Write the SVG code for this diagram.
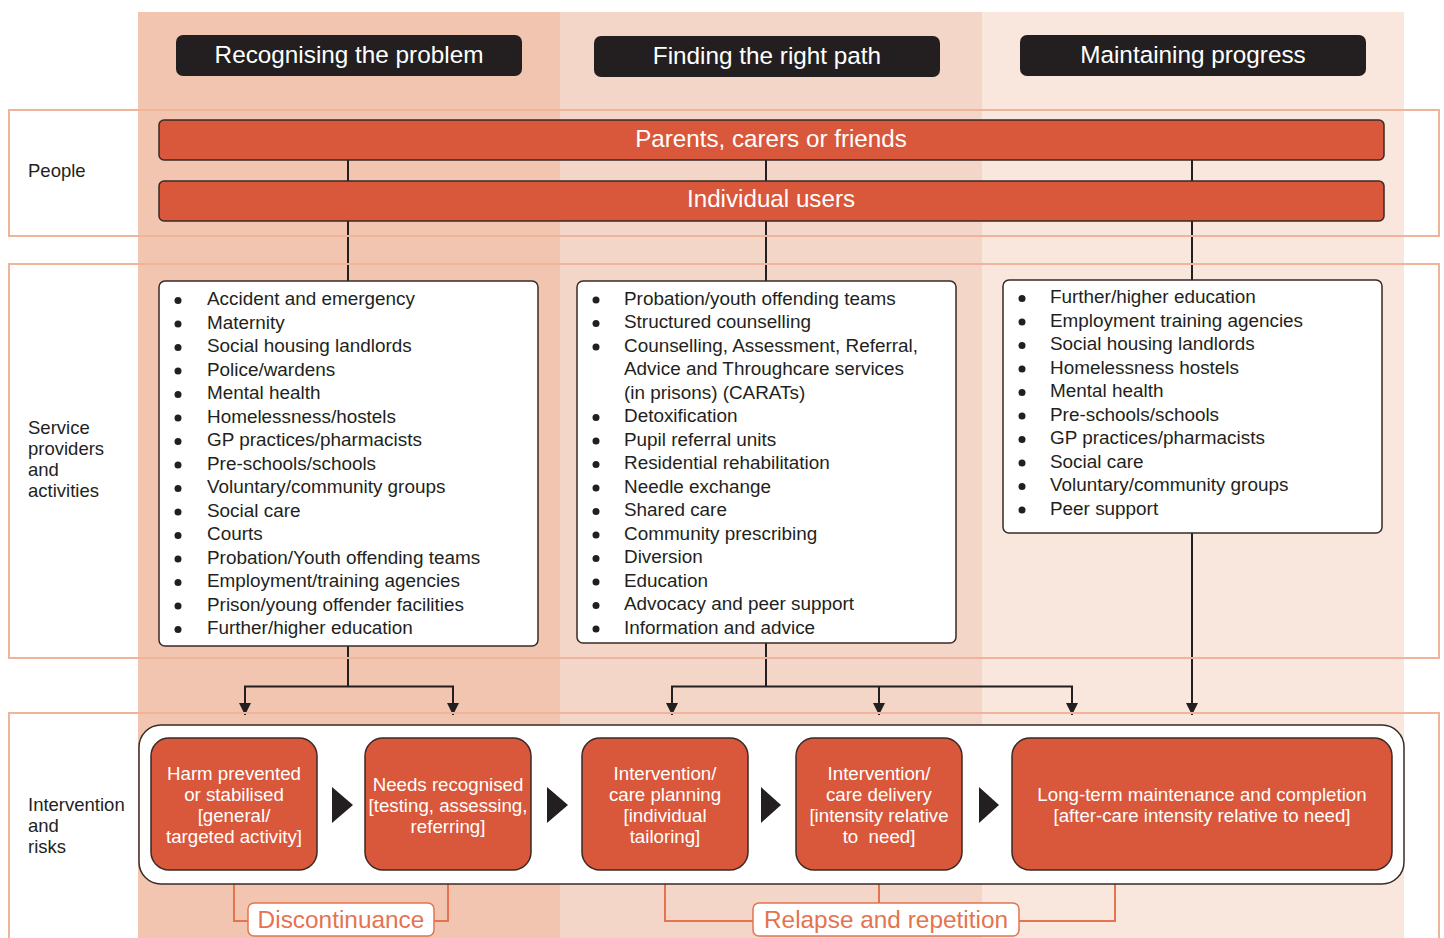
<svg xmlns="http://www.w3.org/2000/svg" width="1444" height="938" viewBox="0 0 1444 938">
<defs>
<style>
text{font-family:"Liberation Sans",Arial,sans-serif;}
.hdr{fill:#231f20;}
.hdrt{fill:#fff;font-size:24.3px;text-anchor:middle;}
.bar{fill:#d9573a;stroke:#3a2a25;stroke-width:1.5;}
.bart{fill:#fff;font-size:24.2px;text-anchor:middle;}
.frame{fill:none;stroke:#efb49a;stroke-width:2;}
.lbl{fill:#231f20;font-size:18.5px;}
.list{fill:#fff;stroke:#3a2a25;stroke-width:1.5;}
.lt{fill:#231f20;font-size:18.9px;}
.bul{fill:#231f20;}
.con{fill:none;stroke:#231f20;stroke-width:2;}
.box{fill:#d9573a;stroke:#3a2a25;stroke-width:1.5;}
.bt{fill:#fff;font-size:18.7px;text-anchor:middle;}
.chev{fill:#231f20;}
.risk{fill:none;stroke:#e5734f;stroke-width:2;}
.rlab{fill:#fff;stroke:#e5734f;stroke-width:1.5;}
.rt{fill:#e5734f;font-size:24.4px;text-anchor:middle;}
</style>
<marker id="ah" markerUnits="userSpaceOnUse" markerWidth="12" markerHeight="13" refX="12" refY="6" orient="auto" viewBox="0 0 12 12">
<path d="M0,0 L12,6 L0,12 z" fill="#231f20"/>
</marker>
</defs>
<rect width="1444" height="938" fill="#fff"/>
<g id="columns">
<rect x="138" y="12" width="422" height="926" fill="#f1c5b0"/>
<rect x="560" y="12" width="422" height="926" fill="#f3d6c8"/>
<rect x="982" y="12" width="422" height="926" fill="#f9e6dd"/>
</g>
<g id="headers">
<g id="h1"><rect class="hdr" x="176" y="35" width="346" height="41" rx="7"/><text class="hdrt" x="349" y="62.5">Recognising the problem</text></g>
<g id="h2"><rect class="hdr" x="594" y="36" width="346" height="41" rx="7"/><text class="hdrt" x="767" y="63.5">Finding the right path</text></g>
<g id="h3"><rect class="hdr" x="1020" y="35" width="346" height="41" rx="7"/><text class="hdrt" x="1193" y="62.5">Maintaining progress</text></g>
</g>
<g id="connectors">
<line class="con" x1="348" y1="160" x2="348" y2="181"/>
<line class="con" x1="766" y1="160" x2="766" y2="181"/>
<line class="con" x1="1192" y1="160" x2="1192" y2="181"/>
<line class="con" x1="348" y1="221" x2="348" y2="281"/>
<line class="con" x1="766" y1="221" x2="766" y2="281"/>
<line class="con" x1="1192" y1="221" x2="1192" y2="280"/>
<path class="con" d="M348,646 V686.5 M245,700 V686.5 H453 V700" />
<line class="con" x1="245" y1="690" x2="245" y2="715" marker-end="url(#ah)"/>
<line class="con" x1="453" y1="690" x2="453" y2="715" marker-end="url(#ah)"/>
<path class="con" d="M766,643 V686.5 M672,700 V686.5 H1072 V700 M879,686.5 V700"/>
<line class="con" x1="672" y1="690" x2="672" y2="715" marker-end="url(#ah)"/>
<line class="con" x1="879" y1="690" x2="879" y2="715" marker-end="url(#ah)"/>
<line class="con" x1="1072" y1="690" x2="1072" y2="715" marker-end="url(#ah)"/>
<line class="con" x1="1192" y1="533" x2="1192" y2="715" marker-end="url(#ah)"/>
<path class="risk" d="M234,870 V921 H248 M448,870 V921 H434"/>
<path class="risk" d="M665,870 V921 H753 M879,870 V903 M1115,870 V921 H1019"/>
</g>
<g id="frames">
<rect class="frame" x="9" y="110" width="1430" height="126"/>
<rect class="frame" x="9" y="264" width="1430" height="394"/>
<rect class="frame" x="9" y="713" width="1430" height="240"/>
</g>
<g id="row-labels">
<text class="lbl" x="28" y="177">People</text>
<text class="lbl" x="28" y="434"><tspan x="28">Service</tspan><tspan x="28" dy="21">providers</tspan><tspan x="28" dy="21">and</tspan><tspan x="28" dy="21">activities</tspan></text>
<text class="lbl" x="28" y="811"><tspan x="28">Intervention</tspan><tspan x="28" dy="21">and</tspan><tspan x="28" dy="21">risks</tspan></text>
</g>
<g id="parents"><rect class="bar" x="159" y="120" width="1225" height="40" rx="5"/><text class="bart" x="771" y="147">Parents, carers or friends</text></g>
<g id="individuals"><rect class="bar" x="159" y="181" width="1225" height="40" rx="5"/><text class="bart" x="771" y="207">Individual users</text></g>
<g id="list1">
<rect class="list" x="159" y="281" width="379" height="365" rx="6"/>
<g class="bul">
<circle cx="178" cy="300.5" r="3.5"/><circle cx="178" cy="324" r="3.5"/><circle cx="178" cy="347.5" r="3.5"/><circle cx="178" cy="371" r="3.5"/><circle cx="178" cy="394.5" r="3.5"/><circle cx="178" cy="418" r="3.5"/><circle cx="178" cy="441.5" r="3.5"/><circle cx="178" cy="465" r="3.5"/><circle cx="178" cy="488.5" r="3.5"/><circle cx="178" cy="512" r="3.5"/><circle cx="178" cy="535.5" r="3.5"/><circle cx="178" cy="559" r="3.5"/><circle cx="178" cy="582.5" r="3.5"/><circle cx="178" cy="606" r="3.5"/><circle cx="178" cy="629.5" r="3.5"/>
</g>
<text class="lt" y="305"><tspan x="207">Accident and emergency</tspan><tspan x="207" dy="23.5">Maternity</tspan><tspan x="207" dy="23.5">Social housing landlords</tspan><tspan x="207" dy="23.5">Police/wardens</tspan><tspan x="207" dy="23.5">Mental health</tspan><tspan x="207" dy="23.5">Homelessness/hostels</tspan><tspan x="207" dy="23.5">GP practices/pharmacists</tspan><tspan x="207" dy="23.5">Pre-schools/schools</tspan><tspan x="207" dy="23.5">Voluntary/community groups</tspan><tspan x="207" dy="23.5">Social care</tspan><tspan x="207" dy="23.5">Courts</tspan><tspan x="207" dy="23.5">Probation/Youth offending teams</tspan><tspan x="207" dy="23.5">Employment/training agencies</tspan><tspan x="207" dy="23.5">Prison/young offender facilities</tspan><tspan x="207" dy="23.5">Further/higher education</tspan></text>
</g>
<g id="list2">
<rect class="list" x="577" y="281" width="379" height="362" rx="6"/>
<g class="bul">
<circle cx="596" cy="300" r="3.5"/><circle cx="596" cy="323.5" r="3.5"/><circle cx="596" cy="347" r="3.5"/><circle cx="596" cy="417.5" r="3.5"/><circle cx="596" cy="441" r="3.5"/><circle cx="596" cy="464.5" r="3.5"/><circle cx="596" cy="488" r="3.5"/><circle cx="596" cy="511.5" r="3.5"/><circle cx="596" cy="535" r="3.5"/><circle cx="596" cy="558.5" r="3.5"/><circle cx="596" cy="582" r="3.5"/><circle cx="596" cy="605.5" r="3.5"/><circle cx="596" cy="629" r="3.5"/>
</g>
<text class="lt" y="304.5"><tspan x="624">Probation/youth offending teams</tspan><tspan x="624" dy="23.5">Structured counselling</tspan><tspan x="624" dy="23.5">Counselling, Assessment, Referral,</tspan><tspan x="624" dy="23.5">Advice and Throughcare services</tspan><tspan x="624" dy="23.5">(in prisons) (CARATs)</tspan><tspan x="624" dy="23.5">Detoxification</tspan><tspan x="624" dy="23.5">Pupil referral units</tspan><tspan x="624" dy="23.5">Residential rehabilitation</tspan><tspan x="624" dy="23.5">Needle exchange</tspan><tspan x="624" dy="23.5">Shared care</tspan><tspan x="624" dy="23.5">Community prescribing</tspan><tspan x="624" dy="23.5">Diversion</tspan><tspan x="624" dy="23.5">Education</tspan><tspan x="624" dy="23.5">Advocacy and peer support</tspan><tspan x="624" dy="23.5">Information and advice</tspan></text>
</g>
<g id="list3">
<rect class="list" x="1003" y="280" width="379" height="253" rx="6"/>
<g class="bul">
<circle cx="1022" cy="298.5" r="3.5"/><circle cx="1022" cy="322" r="3.5"/><circle cx="1022" cy="345.5" r="3.5"/><circle cx="1022" cy="369" r="3.5"/><circle cx="1022" cy="392.5" r="3.5"/><circle cx="1022" cy="416" r="3.5"/><circle cx="1022" cy="439.5" r="3.5"/><circle cx="1022" cy="463" r="3.5"/><circle cx="1022" cy="486.5" r="3.5"/><circle cx="1022" cy="510" r="3.5"/>
</g>
<text class="lt" y="303"><tspan x="1050">Further/higher education</tspan><tspan x="1050" dy="23.5">Employment training agencies</tspan><tspan x="1050" dy="23.5">Social housing landlords</tspan><tspan x="1050" dy="23.5">Homelessness hostels</tspan><tspan x="1050" dy="23.5">Mental health</tspan><tspan x="1050" dy="23.5">Pre-schools/schools</tspan><tspan x="1050" dy="23.5">GP practices/pharmacists</tspan><tspan x="1050" dy="23.5">Social care</tspan><tspan x="1050" dy="23.5">Voluntary/community groups</tspan><tspan x="1050" dy="23.5">Peer support</tspan></text>
</g>
<g id="intervention-container"><rect x="139" y="725" width="1265" height="159" rx="22" fill="#fff" stroke="#3a2a25" stroke-width="1.5"/></g>
<g id="stage1"><rect class="box" x="151" y="738" width="166" height="132" rx="18"/><text class="bt" y="779.5"><tspan x="234">Harm prevented</tspan><tspan x="234" dy="21">or stabilised</tspan><tspan x="234" dy="21">[general/</tspan><tspan x="234" dy="21">targeted activity]</tspan></text></g>
<g id="stage2"><rect class="box" x="365" y="738" width="166" height="132" rx="18"/><text class="bt" y="790.5"><tspan x="448">Needs recognised</tspan><tspan x="448" dy="21">[testing, assessing,</tspan><tspan x="448" dy="21">referring]</tspan></text></g>
<g id="stage3"><rect class="box" x="582" y="738" width="166" height="132" rx="18"/><text class="bt" y="779.5"><tspan x="665">Intervention/</tspan><tspan x="665" dy="21">care planning</tspan><tspan x="665" dy="21">[individual</tspan><tspan x="665" dy="21">tailoring]</tspan></text></g>
<g id="stage4"><rect class="box" x="796" y="738" width="166" height="132" rx="18"/><text class="bt" y="779.5"><tspan x="879">Intervention/</tspan><tspan x="879" dy="21">care delivery</tspan><tspan x="879" dy="21">[intensity relative</tspan><tspan x="879" dy="21" xml:space="preserve">to  need]</tspan></text></g>
<g id="stage5"><rect class="box" x="1012" y="738" width="380" height="132" rx="18"/><text class="bt" y="800.5"><tspan x="1202">Long-term maintenance and completion</tspan><tspan x="1202" dy="21">[after-care intensity relative to need]</tspan></text></g>
<g id="chevrons">
<polygon class="chev" points="332,787 353,805 332,823"/>
<polygon class="chev" points="547,787 568,805 547,823"/>
<polygon class="chev" points="761,787 781,805 761,823"/>
<polygon class="chev" points="979,787 999,805 979,823"/>
</g>
<g id="discontinuance"><rect class="rlab" x="248" y="903" width="186" height="33" rx="6"/><text class="rt" x="341" y="928">Discontinuance</text></g>
<g id="relapse"><rect class="rlab" x="753" y="903" width="266" height="33" rx="6"/><text class="rt" x="886" y="928">Relapse and repetition</text></g>
</svg>
